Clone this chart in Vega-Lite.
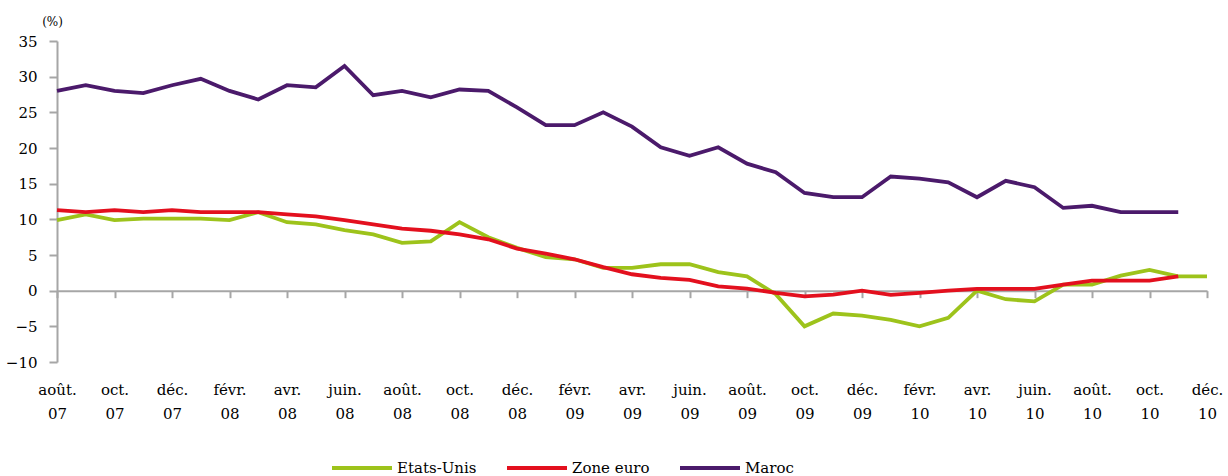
{
  "$schema": "https://vega.github.io/schema/vega-lite/v6.json",
  "width": 1150,
  "height": 321,
  "autosize": {"type": "none"},
  "padding": {"left": 57, "top": 41, "right": 21, "bottom": 114},
  "background": "white",
  "config": {"view": {"stroke": null}, "font": "DejaVu Serif"},
  "data": {"values": [
    {"mois": "2007-08", "Etats-Unis": 9.9, "Zone euro": 11.3, "Maroc": 28.0},
    {"mois": "2007-09", "Etats-Unis": 10.7, "Zone euro": 11.0, "Maroc": 28.8},
    {"mois": "2007-10", "Etats-Unis": 9.9, "Zone euro": 11.3, "Maroc": 28.0},
    {"mois": "2007-11", "Etats-Unis": 10.1, "Zone euro": 11.0, "Maroc": 27.7},
    {"mois": "2007-12", "Etats-Unis": 10.1, "Zone euro": 11.3, "Maroc": 28.8},
    {"mois": "2008-01", "Etats-Unis": 10.1, "Zone euro": 11.0, "Maroc": 29.7},
    {"mois": "2008-02", "Etats-Unis": 9.9, "Zone euro": 11.0, "Maroc": 28.0},
    {"mois": "2008-03", "Etats-Unis": 11.0, "Zone euro": 11.0, "Maroc": 26.8},
    {"mois": "2008-04", "Etats-Unis": 9.6, "Zone euro": 10.7, "Maroc": 28.8},
    {"mois": "2008-05", "Etats-Unis": 9.3, "Zone euro": 10.4, "Maroc": 28.5},
    {"mois": "2008-06", "Etats-Unis": 8.5, "Zone euro": 9.9, "Maroc": 31.5},
    {"mois": "2008-07", "Etats-Unis": 7.9, "Zone euro": 9.3, "Maroc": 27.4},
    {"mois": "2008-08", "Etats-Unis": 6.7, "Zone euro": 8.7, "Maroc": 28.0},
    {"mois": "2008-09", "Etats-Unis": 6.9, "Zone euro": 8.4, "Maroc": 27.1},
    {"mois": "2008-10", "Etats-Unis": 9.6, "Zone euro": 7.9, "Maroc": 28.2},
    {"mois": "2008-11", "Etats-Unis": 7.5, "Zone euro": 7.2, "Maroc": 28.0},
    {"mois": "2008-12", "Etats-Unis": 6.0, "Zone euro": 5.9, "Maroc": 25.7},
    {"mois": "2009-01", "Etats-Unis": 4.7, "Zone euro": 5.2, "Maroc": 23.2},
    {"mois": "2009-02", "Etats-Unis": 4.4, "Zone euro": 4.4, "Maroc": 23.2},
    {"mois": "2009-03", "Etats-Unis": 3.2, "Zone euro": 3.3, "Maroc": 25.0},
    {"mois": "2009-04", "Etats-Unis": 3.2, "Zone euro": 2.3, "Maroc": 23.0},
    {"mois": "2009-05", "Etats-Unis": 3.7, "Zone euro": 1.8, "Maroc": 20.1},
    {"mois": "2009-06", "Etats-Unis": 3.7, "Zone euro": 1.5, "Maroc": 18.9},
    {"mois": "2009-07", "Etats-Unis": 2.6, "Zone euro": 0.6, "Maroc": 20.1},
    {"mois": "2009-08", "Etats-Unis": 2.0, "Zone euro": 0.3, "Maroc": 17.8},
    {"mois": "2009-09", "Etats-Unis": -0.5, "Zone euro": -0.3, "Maroc": 16.6},
    {"mois": "2009-10", "Etats-Unis": -5.0, "Zone euro": -0.8, "Maroc": 13.7},
    {"mois": "2009-11", "Etats-Unis": -3.2, "Zone euro": -0.55, "Maroc": 13.1},
    {"mois": "2009-12", "Etats-Unis": -3.5, "Zone euro": 0.0, "Maroc": 13.1},
    {"mois": "2010-01", "Etats-Unis": -4.1, "Zone euro": -0.6, "Maroc": 16.0},
    {"mois": "2010-02", "Etats-Unis": -5.0, "Zone euro": -0.3, "Maroc": 15.7},
    {"mois": "2010-03", "Etats-Unis": -3.8, "Zone euro": 0.0, "Maroc": 15.2},
    {"mois": "2010-04", "Etats-Unis": 0.0, "Zone euro": 0.25, "Maroc": 13.1},
    {"mois": "2010-05", "Etats-Unis": -1.2, "Zone euro": 0.25, "Maroc": 15.4},
    {"mois": "2010-06", "Etats-Unis": -1.5, "Zone euro": 0.25, "Maroc": 14.5},
    {"mois": "2010-07", "Etats-Unis": 0.85, "Zone euro": 0.85, "Maroc": 11.6},
    {"mois": "2010-08", "Etats-Unis": 0.85, "Zone euro": 1.4, "Maroc": 11.9},
    {"mois": "2010-09", "Etats-Unis": 2.1, "Zone euro": 1.4, "Maroc": 11.0},
    {"mois": "2010-10", "Etats-Unis": 2.9, "Zone euro": 1.4, "Maroc": 11.0},
    {"mois": "2010-11", "Etats-Unis": 2.0, "Zone euro": 2.0, "Maroc": 11.0},
    {"mois": "2010-12", "Etats-Unis": 2.0, "Zone euro": null, "Maroc": null}
  ]},
  "transform": [{"fold": ["Etats-Unis", "Zone euro", "Maroc"], "as": ["serie", "valeur"]}],
  "mark": {"type": "line", "strokeWidth": 3.8},
  "encoding": {
    "x": {
      "field": "mois",
      "type": "ordinal",
      "scale": {"type": "point", "padding": 0},
      "axis": {
        "title": null,
        "orient": "bottom",
        "offset": -71.33,
        "values": ["2007-08", "2007-10", "2007-12", "2008-02", "2008-04", "2008-06", "2008-08", "2008-10", "2008-12", "2009-02", "2009-04", "2009-06", "2009-08", "2009-10", "2009-12", "2010-02", "2010-04", "2010-06", "2010-08", "2010-10", "2010-12"],
        "labelExpr": "[['janv.','févr.','mars','avr.','mai','juin.','juil.','août.','sept.','oct.','nov.','déc.'][toNumber(substring(datum.value,5,7))-1], substring(datum.value,2,4)]",
        "labelAngle": 0,
        "labelFont": "DejaVu Serif",
        "labelFontSize": 15,
        "labelColor": "#000000",
        "labelLineHeight": 24,
        "labelPadding": 85,
        "tickSize": 7,
        "tickWidth": 2,
        "tickColor": "#a6a6a6",
        "domainColor": "#a6a6a6",
        "domainWidth": 2,
        "grid": false
      }
    },
    "y": {
      "field": "valeur",
      "type": "quantitative",
      "scale": {"domain": [-10, 35], "nice": false, "zero": false},
      "axis": {
        "values": [-10, -5, 0, 5, 10, 15, 20, 25, 30, 35],
        "grid": false,
        "title": "(%)",
        "titleFont": "DejaVu Serif",
        "titleAngle": 0,
        "titleX": -5,
        "titleY": -20,
        "titleFontSize": 12,
        "titleFontWeight": "normal",
        "titleAlign": "center",
        "titleBaseline": "middle",
        "titleColor": "#000000",
        "labelFont": "DejaVu Serif",
        "labelFontSize": 15,
        "labelColor": "#000000",
        "labelPadding": 12,
        "tickSize": 8,
        "tickWidth": 2,
        "tickColor": "#a6a6a6",
        "domainColor": "#a6a6a6",
        "domainWidth": 2
      }
    },
    "color": {
      "field": "serie",
      "type": "nominal",
      "scale": {"domain": ["Etats-Unis", "Zone euro", "Maroc"], "range": ["#9dc31b", "#e3101e", "#4b1a6b"]},
      "legend": {
        "orient": "none",
        "legendX": 273,
        "legendY": 395,
        "direction": "horizontal",
        "title": null,
        "symbolType": "stroke",
        "symbolSize": 3600,
        "symbolStrokeWidth": 4,
        "labelFont": "DejaVu Serif",
        "labelFontSize": 15,
        "labelColor": "#000000",
        "labelOffset": 3,
        "columnPadding": 22
      }
    }
  }
}
